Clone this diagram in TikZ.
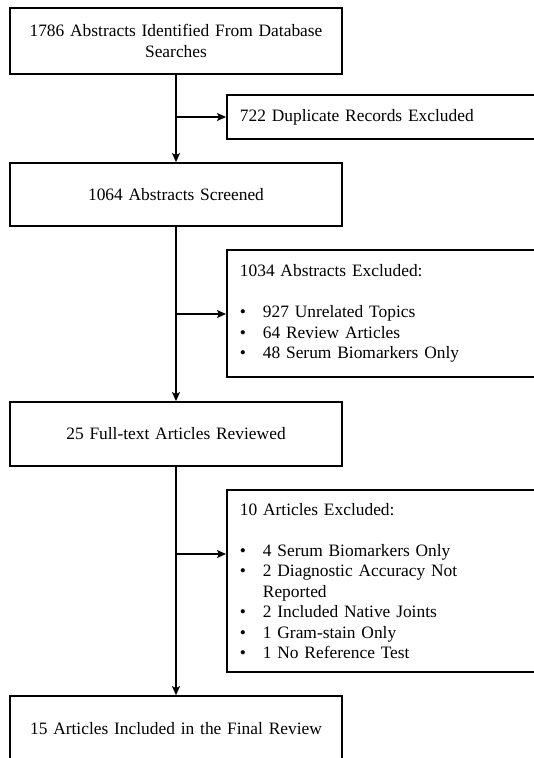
\documentclass[tikz,border=0pt]{standalone}
\usepackage{fontspec}
\setmainfont[WordSpace=0.75]{Liberation Serif}
\usetikzlibrary{arrows.meta, positioning}
\newcommand{\bitem}[1]{\makebox[23pt][l]{\textbullet}#1}

\begin{document}
\begin{tikzpicture}[
    x=1pt, y=-1pt,
    font=\fontsize{17.4}{20.5}\selectfont,
    mainbox/.style={draw, line width=1.8pt, minimum width=332pt, text width=310pt, align=center, inner sep=0pt},
    sidebox/.style={draw, line width=1.8pt, anchor=north west, minimum width=330pt, text width=304pt, align=left, inner xsep=13pt, inner ysep=0pt},
    every edge/.style={draw, line width=1.2pt, -{Stealth[length=9pt, width=8pt, inset=2pt]}},
]
\useasboundingbox (0,0) rectangle (534,758);
\clip (0,0) rectangle (534,758);
\node[mainbox, minimum height=66pt] (found) at (176,41) {1786 Abstracts Identified From Database\\Searches};
\node[mainbox, minimum height=63pt] (screened) at (176,194.5) {1064 Abstracts Screened};
\node[mainbox, minimum height=64pt] (fulltext) at (176,434) {25 Full-text Articles Reviewed};
\node[mainbox, minimum height=66pt] (included) at (176,729) {15 Articles Included in the Final Review};
\node[sidebox, minimum height=44pt] (dupes) at (226,94) {722 Duplicate Records Excluded};
\node[sidebox, minimum height=127pt] (absexcl) at (226,249) {1034 Abstracts Excluded:\\[20.5pt]
  \bitem{927 Unrelated Topics}\\
  \bitem{64 Review Articles}\\
  \bitem{48 Serum Biomarkers Only}};
\node[sidebox, minimum height=182pt] (artexcl) at (226,489) {10 Articles Excluded:\\[20.5pt]
  \bitem{4 Serum Biomarkers Only}\\
  \bitem{2 Diagnostic Accuracy Not}\\
  \hspace*{23pt}Reported\\
  \bitem{2 Included Native Joints}\\
  \bitem{1 Gram-stain Only}\\
  \bitem{1 No Reference Test}};
% split points on the main line
\coordinate (s1) at (176,117);
\coordinate (s2) at (176,314);
\coordinate (s3) at (176,554);
\draw (found) edge (screened);
\draw (screened) edge (fulltext);
\draw (fulltext) edge (included);
\draw (s1) edge (s1 -| dupes.west);
\draw (s2) edge (s2 -| absexcl.west);
\draw (s3) edge (s3 -| artexcl.west);
\end{tikzpicture}
\end{document}
